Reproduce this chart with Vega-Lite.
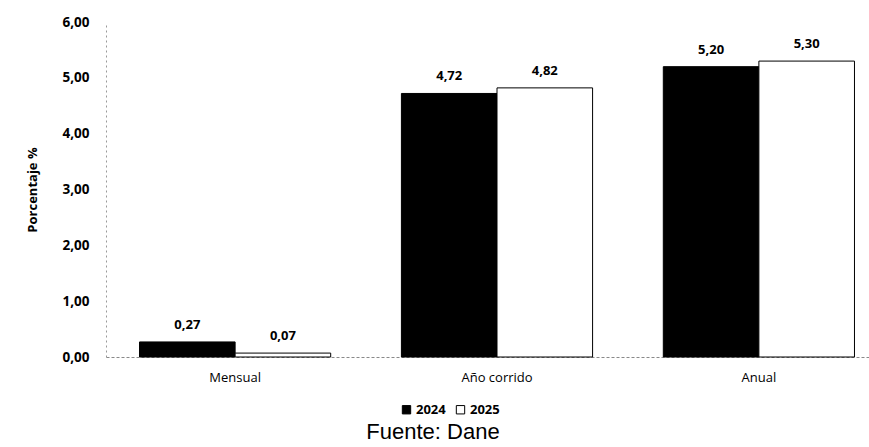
{
  "$schema": "https://vega.github.io/schema/vega-lite/v6.json",
  "width": 782,
  "height": 335,
  "autosize": {"type": "none"},
  "padding": {"left": 106, "top": 22, "right": 0, "bottom": 90},
  "background": "white",
  "title": {"text": "Fuente: Dane", "orient": "bottom", "anchor": "middle", "font": "Liberation Sans", "fontSize": 22, "fontWeight": "normal", "color": "black", "offset": 5, "dx": -64},
  "config": {
    "locale": {"number": {"decimal": ",", "thousands": ".", "grouping": [3], "currency": ["", ""]}},
    "view": {"stroke": null},
    "font": "Open Sans"
  },
  "data": {
    "values": [
      {"periodo": "Mensual", "anio": "2024", "valor": 0.27},
      {"periodo": "Mensual", "anio": "2025", "valor": 0.07},
      {"periodo": "Año corrido", "anio": "2024", "valor": 4.72},
      {"periodo": "Año corrido", "anio": "2025", "valor": 4.82},
      {"periodo": "Anual", "anio": "2024", "valor": 5.20},
      {"periodo": "Anual", "anio": "2025", "valor": 5.30}
    ]
  },
  "encoding": {
    "x": {
      "field": "periodo", "type": "nominal", "sort": ["Mensual", "Año corrido", "Anual"],
      "scale": {"paddingInner": 0.27, "paddingOuter": 0.128},
      "axis": {"title": null, "labelAngle": 0, "ticks": false, "domainColor": "#888", "domainDash": [3, 2], "labelFontSize": 13, "labelColor": "black", "labelPadding": 14, "labelFont": "Open Sans", "labelFontWeight": 500}
    },
    "xOffset": {"field": "anio", "type": "nominal"},
    "y": {
      "field": "valor", "type": "quantitative",
      "scale": {"domain": [0, 6]},
      "axis": {"title": "Porcentaje %", "titleFontSize": 13, "titleFontWeight": "bold", "titleColor": "black", "titlePadding": 22, "format": ".2f", "tickCount": 6, "grid": false, "ticks": false, "domainColor": "#999", "domainDash": [2, 3], "labelFontSize": 13.5, "labelFontWeight": "bold", "labelColor": "black", "labelPadding": 17}
    }
  },
  "layer": [
    {
      "mark": {"type": "bar", "stroke": "black", "strokeWidth": 1},
      "encoding": {
        "color": {
          "field": "anio", "type": "nominal",
          "scale": {"domain": ["2024", "2025"], "range": ["black", "white"]},
          "legend": {"title": null, "orient": "none", "legendX": 294, "legendY": 381, "direction": "horizontal", "symbolType": "square", "symbolSize": 70, "symbolStrokeColor": "black", "symbolStrokeWidth": 1, "labelFontSize": 13, "labelColor": "black", "labelFontWeight": "bold", "columnPadding": 8, "labelOffset": 3}
        }
      }
    },
    {
      "mark": {"type": "text", "dy": -17, "fontSize": 13, "fontWeight": "bold", "color": "black"},
      "encoding": {"text": {"field": "valor", "type": "quantitative", "format": ".2f"}}
    }
  ]
}
